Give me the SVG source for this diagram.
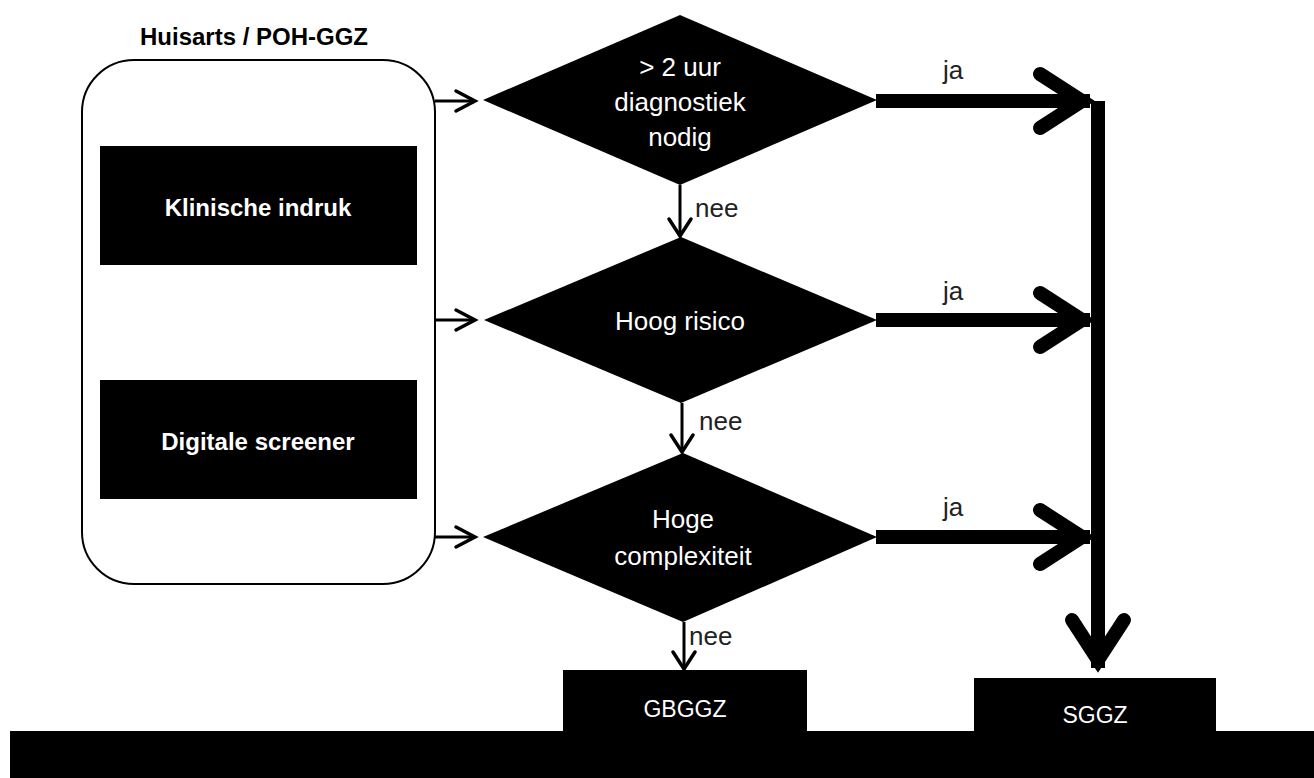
<svg xmlns="http://www.w3.org/2000/svg" width="1314" height="778" viewBox="0 0 1314 778">
<style>
.lbl{font-family:"Liberation Sans",Arial,sans-serif;}
.wt{fill:#fff;text-anchor:middle;}
.dtxt{font-size:26px;}
.btxt{font-size:24px;font-weight:bold;}
.yn{font-size:26px;fill:#222;}
.thin{stroke:#000;stroke-width:3;fill:none;}
.head{stroke:#000;stroke-width:3.5;fill:none;stroke-linejoin:miter;stroke-linecap:round;}
.thick{stroke:#000;stroke-width:14;fill:none;}
.bighead{stroke:#000;stroke-width:14;fill:none;stroke-linecap:round;stroke-linejoin:miter;}
</style>
<rect width="1314" height="778" fill="#fff"/>

<g id="huisarts">
<text class="lbl" x="254" y="45" font-size="24" font-weight="bold" text-anchor="middle" fill="#000">Huisarts / POH-GGZ</text>
<rect x="82" y="60" width="353" height="524" rx="52" ry="52" fill="#fff" stroke="#000" stroke-width="2"/>
</g>
<g id="klinische">
<rect x="100" y="146" width="317" height="119" fill="#000"/>
<text class="lbl wt btxt" x="258" y="216">Klinische indruk</text>
</g>
<g id="digitale">
<rect x="100" y="380" width="317" height="119" fill="#000"/>
<text class="lbl wt btxt" x="258" y="450">Digitale screener</text>
</g>

<g id="d1">
<polygon points="680,15 877,100 680,185 483,100" fill="#000"/>
<text class="lbl wt dtxt" x="680" y="76">&gt; 2 uur</text>
<text class="lbl wt dtxt" x="680" y="111">diagnostiek</text>
<text class="lbl wt dtxt" x="680" y="146">nodig</text>
</g>
<g id="d2">
<polygon points="681,237 877,320 681,403 484,320" fill="#000"/>
<text class="lbl wt dtxt" x="680" y="330">Hoog risico</text>
</g>
<g id="d3">
<polygon points="683,453 877,537 683,622 483,537" fill="#000"/>
<text class="lbl wt dtxt" x="683" y="528">Hoge</text>
<text class="lbl wt dtxt" x="683" y="565">complexiteit</text>
</g>

<g id="bar">
<rect x="10" y="731" width="1304" height="47" fill="#000"/>
</g>
<g id="gbggz">
<rect x="563" y="670" width="244" height="75" fill="#000"/>
<text class="lbl wt" x="685" y="717" font-size="23">GBGGZ</text>
</g>
<g id="sggz">
<rect x="974" y="678" width="242" height="60" fill="#000"/>
<text class="lbl wt" x="1095" y="723" font-size="23">SGGZ</text>
</g>

<g id="connectors">
<line class="thin" x1="435" y1="101" x2="474" y2="101"/>
<path class="head" d="M456,91 L475,101 L456,111"/>
<line class="thin" x1="435" y1="320" x2="474" y2="320"/>
<path class="head" d="M456,310 L475,320 L456,330"/>
<line class="thin" x1="435" y1="537" x2="474" y2="537"/>
<path class="head" d="M456,527 L475,537 L456,547"/>

<line class="thin" x1="680" y1="185" x2="680" y2="234"/>
<path class="head" d="M669,219 L680,236 L691,219"/>
<line class="thin" x1="682" y1="403" x2="682" y2="450"/>
<path class="head" d="M671,435 L682,452 L693,435"/>
<line class="thin" x1="684" y1="622" x2="684" y2="667"/>
<path class="head" d="M673,652 L684,669 L695,652"/>

<line class="thick" x1="876" y1="101" x2="1090" y2="101"/>
<path class="bighead" d="M1040,74 L1082,101 L1040,128"/>
<line class="thick" x1="876" y1="320" x2="1090" y2="320"/>
<path class="bighead" d="M1040,293 L1082,320 L1040,347"/>
<line class="thick" x1="876" y1="537" x2="1090" y2="537"/>
<path class="bighead" d="M1040,510 L1082,537 L1040,564"/>

<line class="thick" x1="1098" y1="101" x2="1098" y2="668"/>
<path class="bighead" d="M1072,620 L1098,660 L1124,620"/>

<text class="lbl yn" x="695" y="217">nee</text>
<text class="lbl yn" x="699" y="430">nee</text>
<text class="lbl yn" x="689" y="645">nee</text>
<text class="lbl yn" x="943" y="79">ja</text>
<text class="lbl yn" x="943" y="300">ja</text>
<text class="lbl yn" x="943" y="516">ja</text>
</g>
</svg>
